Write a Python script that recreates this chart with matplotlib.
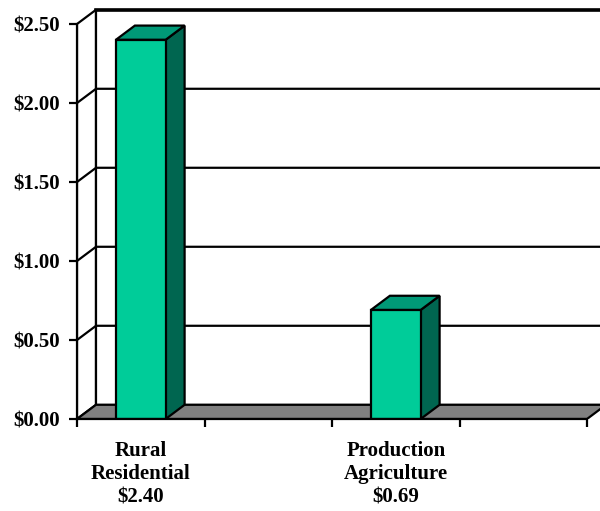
import matplotlib
matplotlib.use("Agg")
import matplotlib.pyplot as plt
from matplotlib.patches import Polygon, Rectangle
from matplotlib.ticker import FixedLocator, NullFormatter

# four category slots on the axis, two of them empty
categories = ["Rural\nResidential", "", "Production\nAgriculture", ""]
values = [2.40, None, 0.69, None]
yticks = [0.0, 0.5, 1.0, 1.5, 2.0, 2.5]

FRONT = "#00CC99"
SIDE = "#006650"
TOP = "#009977"
FLOOR = "#808080"
DX, DY = 0.149, 0.09   # fake 3d depth, in data units
BAR_W = 0.39
LW = 1.6

plt.rcParams["font.family"] = ["Liberation Serif", "DejaVu Serif"]
plt.rcParams["font.weight"] = "bold"

fig = plt.figure(figsize=(6.0, 5.11), dpi=100)
ax = fig.add_axes([77 / 600, 92 / 511, 523 / 600, 419 / 511])
n = len(categories)
ymax = yticks[-1]
ax.set_xlim(0, 523 / 127.5)
ax.set_ylim(0, 419 / 158)

def poly(pts, fc, z, lw=LW):
    ax.add_patch(Polygon(pts, closed=True, fc=fc, ec="black", lw=lw,
                         joinstyle="miter", zorder=z))

# walls and floor
poly([(0, 0), (0, ymax), (DX, ymax + DY), (DX, DY)], "white", 1)
poly([(DX, DY), (DX, ymax + DY), (n + DX, ymax + DY), (n + DX, DY)], "white", 1)
ax.plot([DX, n + DX], [ymax + DY, ymax + DY], color="black", lw=2.6, zorder=2)
poly([(0, 0), (n, 0), (n + DX, DY), (DX, DY)], FLOOR, 2)

# gridlines on back and side walls
for v in yticks[1:-1]:
    ax.plot([0, DX, n + DX], [v, v + DY, v + DY], color="black", lw=LW, zorder=1.5)

# bars
for i, v in enumerate(values):
    if v is None:
        continue
    c = i + 0.5
    l, r = c - BAR_W / 2, c + BAR_W / 2
    poly([(r, 0), (r + DX, DY), (r + DX, v + DY), (r, v)], SIDE, 3)
    poly([(l, v), (r, v), (r + DX, v + DY), (l + DX, v + DY)], TOP, 3)
    ax.add_patch(Rectangle((l, 0), BAR_W, v, fc=FRONT, ec="black", lw=LW,
                           joinstyle="miter", zorder=4))

# axes
for s in ("top", "right"):
    ax.spines[s].set_visible(False)
ax.spines["left"].set_bounds(0, ymax)
ax.spines["bottom"].set_bounds(0, n)
for s in ("left", "bottom"):
    ax.spines[s].set_linewidth(LW)
    ax.spines[s].set_zorder(5)

ax.set_yticks(yticks)
ax.set_yticklabels([f"${v:.2f}" for v in yticks])
ax.set_xticks(range(n + 1))
ax.xaxis.set_major_formatter(NullFormatter())
ax.xaxis.set_minor_locator(FixedLocator([i + 0.5 for i in range(n)]))
labels = [f"{c}\n${v:.2f}" if v is not None else "" for c, v in zip(categories, values)]
ax.set_xticklabels(labels, minor=True)
ax.tick_params(axis="both", which="major", direction="out", length=6, width=LW,
               labelsize=15)
ax.tick_params(axis="y", pad=6)
ax.tick_params(axis="x", which="minor", length=0, pad=16, labelsize=15)
for t in ax.get_xticklabels(minor=True) + ax.get_yticklabels():
    t.set_fontweight("bold")

fig.savefig("out.png", dpi=100)
